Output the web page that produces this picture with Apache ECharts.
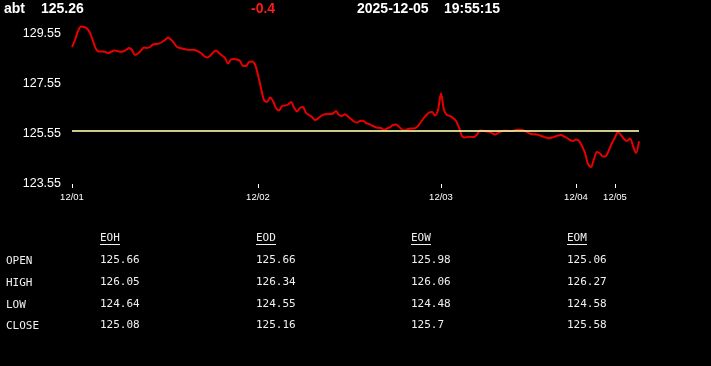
<!DOCTYPE html>
<html>
<head>
<meta charset="utf-8">
<script src="https://cdn.jsdelivr.net/npm/echarts@6/dist/echarts.min.js"></script>
<style>
html,body{margin:0;padding:0;background:#000;}
#chart{width:711px;height:366px;}
</style>
</head>
<body>
<div id="chart"></div>
<script>
// ---- data ----
const symbol = 'abt';
const lastPrice = '125.26';
const change = '-0.4';
const dateText = '2025-12-05';
const timeText = '19:55:15';
const prevClose = 125.66;

const dayLabels = ['12/01', '12/02', '12/03', '12/04', '12/05'];
const dayStartIndex = [0, 62, 123, 168, 181];

const prices = [
  129.03, 129.31, 129.67, 129.85, 129.83, 129.77, 129.59, 129.27, 128.95, 128.85,
  128.85, 128.84, 128.79, 128.83, 128.89, 128.87, 128.84, 128.85, 128.91, 128.99,
  128.91, 128.71, 128.77, 128.89, 129.01, 128.99, 129.03, 129.13, 129.15, 129.17,
  129.23, 129.31, 129.41, 129.33, 129.19, 129.03, 128.99, 128.96, 128.93, 128.91,
  128.92, 128.91, 128.85, 128.79, 128.67, 128.61, 128.67, 128.81, 128.89, 128.79,
  128.69, 128.59, 128.37, 128.53, 128.55, 128.53, 128.47, 128.27, 128.27, 128.43,
  128.45, 128.33, 127.91, 127.39, 126.91, 126.83, 127.01, 126.87, 126.59, 126.49,
  126.67, 126.69, 126.73, 126.83, 126.61, 126.45, 126.59, 126.63, 126.39, 126.31,
  126.23, 126.11, 126.17, 126.27, 126.33, 126.35, 126.35, 126.37, 126.47, 126.31,
  126.27, 126.34, 126.25, 126.15, 126.05, 126.01, 126.07, 126.08, 125.99, 125.95,
  125.89, 125.83, 125.80, 125.79, 125.71, 125.77, 125.82, 125.91, 125.93, 125.84,
  125.73, 125.69, 125.75, 125.77, 125.77, 125.83, 125.98, 126.15, 126.29, 126.41,
  126.43, 126.29, 126.51, 127.17, 126.51, 126.31, 126.27, 126.19, 126.07, 125.81,
  125.47, 125.41, 125.44, 125.43, 125.43, 125.53, 125.69, 125.68, 125.65, 125.64,
  125.59, 125.53, 125.59, 125.65, 125.68, 125.68, 125.67, 125.68, 125.71, 125.72,
  125.71, 125.67, 125.61, 125.55, 125.54, 125.53, 125.49, 125.45, 125.41, 125.38,
  125.41, 125.45, 125.49, 125.51, 125.45, 125.39, 125.31, 125.27, 125.33, 125.27,
  125.07, 124.79, 124.35, 124.23, 124.55, 124.83, 124.77, 124.65, 124.67, 124.91,
  125.19, 125.41, 125.63, 125.51, 125.35, 125.27, 125.37, 125.07, 124.79, 125.26
];

const yTickMin = 123.55;
const yTickStep = 2;
const yMax = 129.95;

const tableCols = ['EOH', 'EOD', 'EOW', 'EOM'];
const tableRows = ['OPEN', 'HIGH', 'LOW', 'CLOSE'];
const openVals  = ['125.66', '125.66', '125.98', '125.06'];
const highVals  = ['126.05', '126.34', '126.06', '126.27'];
const lowVals   = ['124.64', '124.55', '124.48', '124.58'];
const closeVals = ['125.08', '125.16', '125.7', '125.58'];

// ---- build ----
const categories = [];
let d = 0;
for (let i = 0; i < prices.length; i++) {
  if (d + 1 < dayStartIndex.length && i >= dayStartIndex[d + 1]) d++;
  categories.push(dayLabels[d] + '#' + i);
}
const isDayStart = (idx) => dayStartIndex.indexOf(idx) >= 0;

const headerFont = 'bold 14px "Liberation Sans", Arial, sans-serif';
const monoFont = '11px "DejaVu Sans Mono", monospace';
const graphics = [];
function txt(x, y, s, font, fill) {
  graphics.push({type: 'text', left: x, top: y, style: {text: s, font: font, fill: fill}, silent: true});
}
txt(4, 2, symbol, headerFont, '#ffffff');
txt(41, 2, lastPrice, headerFont, '#ffffff');
txt(251, 2, change, headerFont, '#ff1a1a');
txt(357, 2, dateText, headerFont, '#ffffff');
txt(444, 2, timeText, headerFont, '#ffffff');

const colX = [100, 256, 411, 567];
const rowY = [255, 277, 299, 320];
const rowVals = [openVals, highVals, lowVals, closeVals];
tableCols.forEach((c, j) => {
  txt(colX[j], 233, c, monoFont, '#f0f0f0');
  graphics.push({type: 'rect', shape: {x: colX[j], y: 244, width: 20, height: 1}, style: {fill: '#f0f0f0'}, silent: true});
});
tableRows.forEach((r, k) => {
  txt(6, rowY[k] + 1, r, monoFont, '#f0f0f0');
  rowVals[k].forEach((v, j) => txt(colX[j], rowY[k], v, monoFont, '#f0f0f0'));
});

const chart = echarts.init(document.getElementById('chart'));
chart.setOption({
  backgroundColor: '#000000',
  animation: false,
  grid: {left: 72, right: 72, top: 24, bottom: 182},
  xAxis: {
    type: 'category',
    data: categories,
    boundaryGap: false,
    axisLine: {show: false},
    axisTick: {show: true, interval: isDayStart, length: 4, lineStyle: {color: '#ffffff', width: 1}},
    axisLabel: {
      interval: isDayStart,
      formatter: (v) => v.split('#')[0],
      color: '#ffffff', fontSize: 9.5, margin: 8,
      fontFamily: '"Liberation Sans", Arial, sans-serif'
    },
    splitLine: {show: false}
  },
  yAxis: {
    type: 'value',
    min: yTickMin,
    max: yMax,
    interval: yTickStep,
    axisLine: {show: false},
    axisTick: {show: false},
    splitLine: {show: false},
    axisLabel: {
      showMaxLabel: false,
      formatter: (v) => v.toFixed(2),
      color: '#ffffff', fontSize: 12.5, margin: 11,
      fontFamily: '"Liberation Sans", Arial, sans-serif'
    }
  },
  series: [{
    type: 'line',
    data: prices,
    smooth: 0.3,
    symbol: 'none',
    lineStyle: {color: '#e80000', width: 2},
    markLine: {
      silent: true,
      symbol: 'none',
      label: {show: false},
      lineStyle: {color: '#f0f0a0', width: 2, type: 'solid', opacity: 0.85},
      data: [{yAxis: prevClose}]
    }
  }],
  graphic: graphics
});
</script>
</body>
</html>
